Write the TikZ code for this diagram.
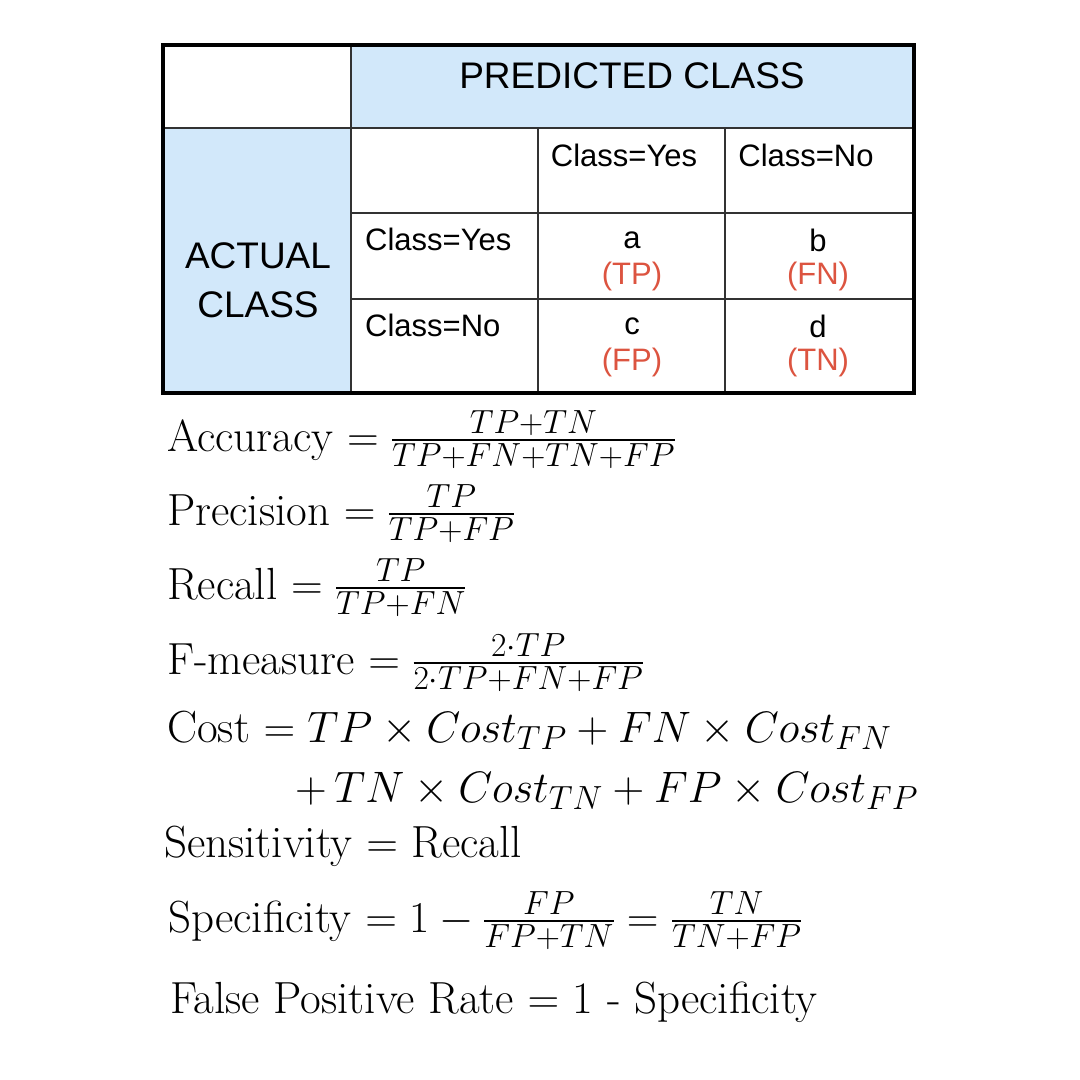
\RequirePackage{fix-cm}
\documentclass[tikz,border=0pt]{standalone}
\usepackage{amsmath,amssymb}
\usepackage{fontspec}
\usepackage{tikz}
\usetikzlibrary{calc}
\newfontfamily\tabfont{Liberation Sans}
\definecolor{hdblue}{RGB}{210,232,250}
\definecolor{cellred}{RGB}{220,84,64}
\definecolor{gridgray}{RGB}{50,50,50}
\DeclareMathSizes{45}{44}{33.5}{24}
\newcommand\cval[5]{
  \node (v#1) at (#2,#3) {#4};
  \node[text=cellred] (r#1) at (#2,#3+36) {(#5)};
}
\newcommand\frm[4]{
\node[anchor=base west] (#1) at (#2,#3) {#4};
}

\begin{document}
\begin{tikzpicture}[x=1pt,y=-1pt,font=\tabfont\fontsize{31}{37}\selectfont,inner sep=0pt]
\useasboundingbox (0,0) rectangle (1080,1080);

% header fills
\fill[hdblue] (351,45) rectangle (914,128);
\fill[hdblue] (163,128) rectangle (351,393);

% grid
\draw[gridgray, line width=1.7pt] (163,128) -- (914,128);
\draw[gridgray, line width=1.7pt] (351,213) -- (914,213);
\draw[gridgray, line width=1.7pt] (351,299) -- (914,299);
\draw[gridgray, line width=1.7pt] (351,45) -- (351,393);
\draw[gridgray, line width=1.7pt] (538,128) -- (538,393);
\draw[gridgray, line width=1.7pt] (725,128) -- (725,393);
\draw[black, line width=4pt] (163,45) rectangle (914,393);

\node[font=\tabfont\fontsize{37}{43}\selectfont] (pred) at (632,76) {PREDICTED CLASS};
\node[font=\tabfont\fontsize{37}{43}\selectfont, align=center] (act) at (258,280) {ACTUAL\\[6pt]CLASS};

\node (pyes) at (624,155) {Class=Yes};
\node (pno) at (806,155) {Class=No};
\node[anchor=west] (ayes) at (365,239) {Class=Yes};
\node[anchor=west] (ano) at (365,325) {Class=No};

\cval{a}{632}{240}{a}{TP}
\cval{b}{818}{240}{b}{FN}
\cval{c}{632}{326}{c}{FP}
\cval{d}{818}{326}{d}{TN}

%formulas
\begin{scope}[font=\fontsize{45}{54}\selectfont]
\frm{acc}{167}{451}{Accuracy $=\frac{TP+TN}{TP+FN+TN+FP}$}
\frm{prec}{167}{525}{Precision $=\frac{TP}{TP+FP}$}
\frm{rec}{167}{599}{Recall $=\frac{TP}{TP+FN}$}
\frm{fm}{167}{674}{F-measure $=\frac{2\cdot TP}{2\cdot TP+FN+FP}$}
\frm{cost}{167}{742}{Cost $=TP\times Cost_{TP}+FN\times Cost_{FN}$}
\frm{costb}{295}{802}{$+\,TN\times Cost_{TN}+FP\times Cost_{FP}$}
\frm{sens}{164}{857}{Sensitivity $=$ Recall}
\frm{spec}{168}{932}{Specificity $=1-\frac{FP}{FP+TN}=\frac{TN}{TN+FP}$}
\frm{fpr}{170}{1013}{False Positive Rate $=$ 1 - Specificity}
\end{scope}

\end{tikzpicture}
\end{document}
